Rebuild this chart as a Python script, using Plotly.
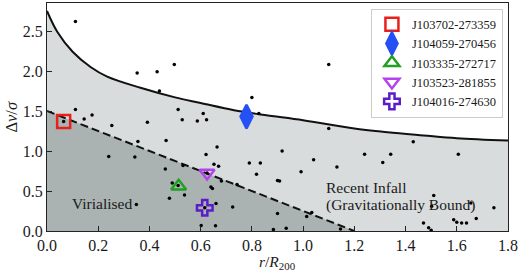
import plotly.graph_objects as go

# ---- data ----
curve_r = [0.0, 0.04, 0.10, 0.17, 0.235, 0.365, 0.50, 0.60, 0.73, 0.85, 1.00, 1.20, 1.33, 1.47, 1.60, 1.80]
curve_dv = [2.75, 2.49, 2.24, 2.05, 1.93, 1.79, 1.67, 1.60, 1.51, 1.45, 1.385, 1.28, 1.235, 1.195, 1.16, 1.13]

dash_r = [0.0, 1.2]
dash_dv = [1.5, 0.0]

dots_r = [0.111, 0.352, 0.430, 0.497, 0.439, 0.512, 0.61, 0.111, 0.145, 0.176, 0.065, 0.528, 0.587,
          0.623, 0.392, 0.253, 0.80, 0.827, 1.10, 1.10,
          0.355, 0.465, 0.241, 0.343, 0.462, 0.531, 0.621, 0.664, 0.652, 0.670, 0.79, 0.833, 0.818,
          0.681, 0.742, 0.640, 0.646, 0.489, 0.512, 0.478, 0.537, 0.349, 0.660, 0.725, 0.602, 0.658,
          0.918, 1.041, 1.132, 0.992, 0.900, 0.908, 0.900, 1.014, 1.034, 0.884, 0.934, 1.146,
          1.24, 1.342, 1.311, 1.430, 1.606, 1.51, 1.502, 1.655, 1.745, 1.676, 1.47, 1.49, 1.50,
          1.588, 1.60, 1.619, 1.638, 0.616, 0.625]
dots_dv = [2.62, 1.975, 1.99, 2.08, 1.75, 1.52, 1.47, 1.52, 1.40, 1.45, 1.37, 1.39, 1.375,
           1.39, 1.36, 1.32, 1.67, 1.47, 2.08, 1.28,
           1.12, 1.13, 0.93, 0.925, 0.775, 0.82, 0.955, 1.05, 0.835, 0.81, 0.85, 0.85, 0.71,
           0.625, 0.58, 0.55, 0.53, 0.60, 0.57, 0.41, 0.45, 0.33, 0.345, 0.30, 0.07, 0.065,
           1.0, 0.89, 0.80, 0.74, 0.63, 0.625, 0.22, 0.18, 0.23, 0.02, 0.035, 0.025,
           0.96, 0.958, 0.857, 1.115, 0.96, 0.445, 0.31, 0.35, 0.29, 0.157, 0.10, 0.04, 0.01,
           0.14, 0.11, 0.10, 0.10, 0.29, 0.725]

gal_names = ["J103702-273359", "J104059-270456", "J103335-272717", "J103523-281855", "J104016-274630"]
gal_r = [0.065, 0.779, 0.514, 0.625, 0.616]
gal_dv = [1.37, 1.43, 0.56, 0.725, 0.29]
gal_symbols = ["square-open", "diamond-tall", "triangle-up-open", "triangle-down-open", "cross-open"]
gal_colors = ["#e8201c", "#2450f4", "#22a024", "#b542ef", "#5a1ec8"]
gal_sizes = [13, 17, 13, 13, 13]

FONT = "Liberation Serif"
TXT = "#1a1a1a"

fig = go.Figure()

# escape-velocity caustic (light region)
fig.add_trace(go.Scatter(x=curve_r, y=curve_dv, mode="lines", line=dict(color="#111111", width=2, shape="spline"),
                         fill="tozeroy", fillcolor="#d9dcdc", showlegend=False, hoverinfo="skip"))
# virialised region (dark)
fig.add_trace(go.Scatter(x=dash_r, y=dash_dv, mode="lines", line=dict(color="#111111", width=2, dash="8px,4px"),
                         fill="tozeroy", fillcolor="#abb3b2", showlegend=False, hoverinfo="skip"))

# all galaxies
fig.add_trace(go.Scatter(x=dots_r, y=dots_dv, mode="markers", marker=dict(color="black", size=3.5),
                         showlegend=False))

for n, r, dv, s, c, sz in zip(gal_names, gal_r, gal_dv, gal_symbols, gal_colors, gal_sizes):
    fig.add_trace(go.Scatter(x=[r], y=[dv], mode="markers", name=n,
                             marker=dict(symbol=s, color=c, size=sz, line=dict(color=c, width=2.5))))

fig.add_annotation(x=0.215, y=0.35, text="Virialised", showarrow=False, xref="x", yref="y",
                   font=dict(family=FONT, size=15.5, color=TXT))
fig.add_annotation(x=1.08, y=0.55, text="Recent Infall", showarrow=False, xref="x", yref="y",
                   xanchor="left", font=dict(family=FONT, size=15.5, color=TXT))
fig.add_annotation(x=1.08, y=0.33, text="(Gravitationally Bound)", showarrow=False, xref="x", yref="y",
                   xanchor="left", font=dict(family=FONT, size=15.5, color=TXT))

# axis titles
fig.add_annotation(x=0.5, y=-0.14, xref="paper", yref="paper", xanchor="center", yanchor="middle",
                   text="<i>r</i>/<i>R</i><sub>200</sub>", showarrow=False,
                   font=dict(family=FONT, size=15.5, color=TXT))
fig.add_annotation(x=-0.079, y=0.5, xref="paper", yref="paper", xanchor="center", yanchor="middle",
                   text="Δ<i>v</i>/<i>σ</i>", showarrow=False, textangle=-90,
                   font=dict(family=FONT, size=16.5, color=TXT))

axis_common = dict(showgrid=False, zeroline=False, showline=True, mirror=True, linecolor="#222222",
                   linewidth=1, ticks="inside", ticklen=5, tickcolor="#222222",
                   tickfont=dict(family=FONT, size=16, color=TXT))

fig.update_layout(
    width=520, height=271,
    margin=dict(l=46.5, r=12.3, t=2.7, b=40.3, autoexpand=False),
    paper_bgcolor="white", plot_bgcolor="white",
    xaxis=dict(range=[0, 1.8], dtick=0.2, tickformat=".1f", **axis_common),
    yaxis=dict(range=[0, 2.85], dtick=0.5, tickformat=".1f", **axis_common),
    legend=dict(x=0.989, y=0.975, xanchor="right", yanchor="top", bgcolor="white",
                bordercolor="#cccccc", borderwidth=1, font=dict(family=FONT, size=12.5, color=TXT),
                tracegroupgap=0, itemwidth=30),
    showlegend=True,
)

fig.write_html("out.html", config={"displayModeBar": False},
               post_script="document.body.style.margin='0';document.body.style.overflow='hidden';")
